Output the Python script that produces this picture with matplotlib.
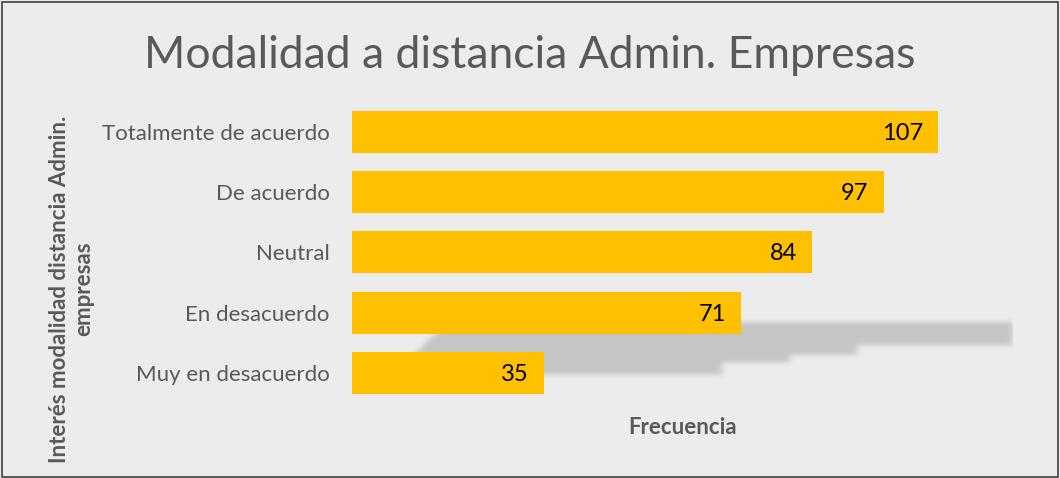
import numpy as np
import matplotlib
matplotlib.use('Agg')
import matplotlib.pyplot as plt
from matplotlib.patches import Rectangle
from matplotlib.path import Path

# chart data
categorias = ['Muy en desacuerdo', 'En desacuerdo', 'Neutral', 'De acuerdo', 'Totalmente de acuerdo']
frecuencia = [35, 71, 84, 97, 107]

titulo = 'Modalidad a distancia Admin. Empresas'
eje_y = 'Interés modalidad distancia Admin.\nempresas'
eje_x = 'Frecuencia'

bg = '#ECECEC'
gris = '#595959'
oro = '#FFC000'

plt.rcParams['font.family'] = ['Lato', 'DejaVu Sans']

fig = plt.figure(figsize=(10.6, 4.78), dpi=100, facecolor=bg)
fig.patches.append(Rectangle((0.002, 0.002), 0.996, 0.994, transform=fig.transFigure,
                             fill=False, edgecolor='#404040', linewidth=1.2))
ax = fig.add_axes([0.332, 0.157, 0.623, 0.630])
ax.set_facecolor(bg)

y = np.arange(len(categorias))
xmax = 120.5

# blurred staircase shadow behind the bars (like the office "perspective" shadow)
tops = [0.46, 0.30, 0.18]        # step heights for bars 97, 84, 71
rights = [v * 0.95 for v in frecuencia[1:4]][::-1]
verts = [(8, -0.03), (14, 0.55), (18, 0.84), (xmax + 5, 0.84), (xmax + 5, tops[0]),
         (rights[0], tops[0]), (rights[0], tops[1]), (rights[1], tops[1]),
         (rights[1], tops[2]), (rights[2], tops[2]), (rights[2], -0.03), (8, -0.03)]
nx, ny = 1200, 500
gx = np.linspace(0, xmax, nx)
gy = np.linspace(-0.5, 4.5, ny)
XX, YY = np.meshgrid(gx, gy)
mask = Path(verts).contains_points(np.c_[XX.ravel(), YY.ravel()]).reshape(ny, nx).astype(float)
def blur(a, s, axis):
    k = np.exp(-0.5 * (np.arange(-3 * s, 3 * s + 1) / s) ** 2)
    k /= k.sum()
    return np.apply_along_axis(lambda r: np.convolve(r, k, mode='same'), axis, a)
mask = blur(blur(mask, 6, 1), 4, 0)
img = np.zeros((ny, nx, 4))
img[..., :3] = 0.5
img[..., 3] = mask * 0.36
ax.imshow(img, extent=[0, xmax, -0.5, 4.5], origin='lower', aspect='auto', zorder=1,
          interpolation='bilinear')

bars = ax.barh(y, frecuencia, height=0.7, color=oro, zorder=3)
for b, v in zip(bars, frecuencia):
    ax.annotate(str(v), (v, b.get_y() + b.get_height() / 2), xytext=(-11, -1),
                textcoords='offset points', ha='right', va='center',
                fontsize=17, color='black', zorder=4)

ax.set_xlim(0, xmax)
ax.set_ylim(-0.5, len(categorias) - 0.5)
ax.set_yticks(y)
ax.set_yticklabels(categorias, fontsize=16, color=gris)
ax.tick_params(axis='y', length=0, pad=16)
ax.set_xticks([])
for s in ax.spines.values():
    s.set_visible(False)

ax.set_xlabel(eje_x, fontsize=16, fontweight='bold', color=gris, labelpad=10)
fig.text(0.0675, 1 - 289 / 478, eje_y, rotation=90, ha='center', va='center',
         fontsize=16, fontweight='bold', color=gris, multialignment='center')
fig.text(0.5, 1 - 55 / 478, titulo, ha='center', va='center', fontsize=32, color=gris)

fig.savefig('out.png', dpi=100, facecolor=bg)
